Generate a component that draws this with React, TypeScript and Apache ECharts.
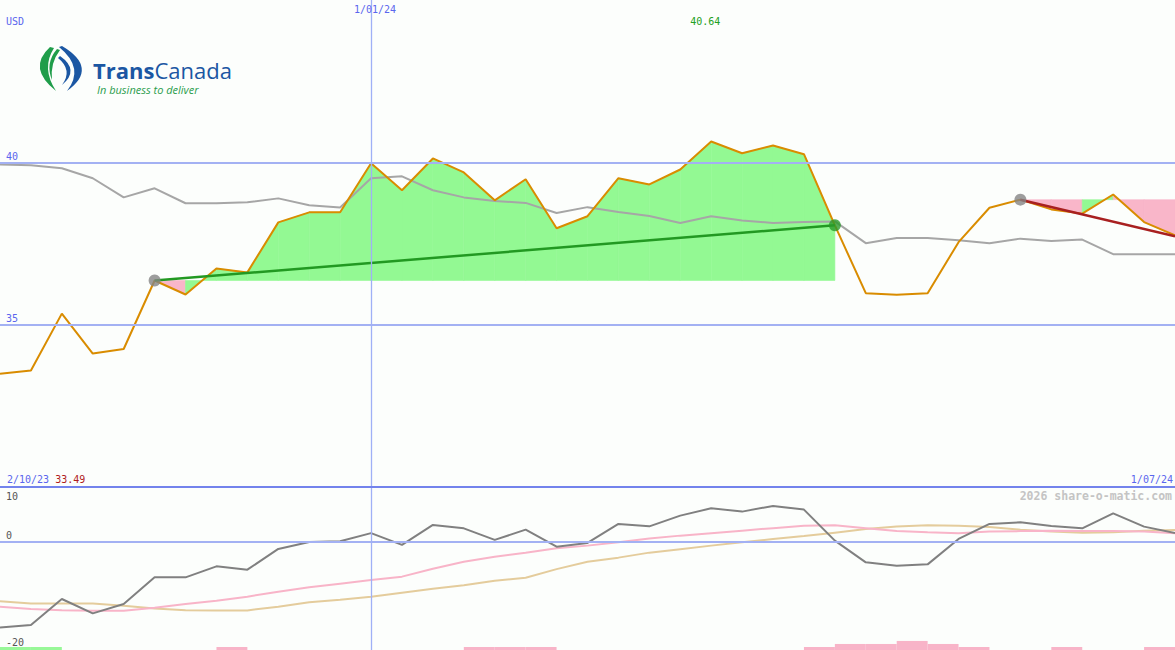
import React, { useEffect, useRef } from "react";
import * as echarts from "echarts";

// ---- data (weekly closes, USD) ----
const price = [33.49, 33.59, 35.34, 34.11, 34.25, 36.36, 35.93, 36.73, 36.61, 38.15, 38.46, 38.46, 39.97, 39.14, 40.12, 39.69, 38.83, 39.48, 37.97, 38.34, 39.51, 39.32, 39.78, 40.64, 40.28, 40.52, 40.25, 38.06, 35.97, 35.92, 35.97, 37.54, 38.6, 38.85, 38.55, 38.42, 39.01, 38.16, 37.75];
const avgLine = [39.93, 39.91, 39.82, 39.51, 38.92, 39.2, 38.74, 38.74, 38.77, 38.89, 38.68, 38.61, 39.51, 39.57, 39.14, 38.92, 38.81, 38.75, 38.44, 38.62, 38.47, 38.35, 38.13, 38.34, 38.21, 38.13, 38.16, 38.18, 37.51, 37.67, 37.67, 37.6, 37.51, 37.65, 37.58, 37.62, 37.17, 37.17, 37.17];
const oscGray = [-15.84, -15.4, -10.61, -13.26, -11.53, -6.63, -6.63, -4.6, -5.21, -1.4, -0.11, 0, 1.51, -0.66, 3.02, 2.39, 0.26, 2.15, -0.98, -0.29, 3.2, 2.76, 4.73, 6.08, 5.47, 6.52, 5.84, 0.13, -3.87, -4.48, -4.24, 0.44, 3.2, 3.5, 2.84, 2.39, 5.16, 2.71, 1.55];
const oscPink = [-12.03, -12.45, -12.67, -12.76, -12.76, -12.21, -11.53, -10.92, -10.18, -9.26, -8.47, -7.79, -7.11, -6.5, -5.03, -3.74, -2.82, -2.08, -1.29, -0.79, -0.15, 0.5, 1.05, 1.51, 1.97, 2.43, 2.89, 2.95, 2.43, 1.88, 1.69, 1.51, 1.79, 1.88, 1.97, 1.92, 1.88, 1.79, 1.47];
const oscTan = [-11.05, -11.42, -11.42, -11.42, -11.84, -12.34, -12.67, -12.71, -12.71, -12.03, -11.23, -10.74, -10.18, -9.45, -8.71, -8.07, -7.24, -6.69, -5.12, -3.74, -3.0, -2.08, -1.44, -0.79, -0.15, 0.41, 0.96, 1.6, 2.25, 2.71, 2.95, 2.89, 2.62, 2.15, 1.79, 1.6, 1.69, 1.97, 2.1];
// signal histogram per weekly interval (+ green, - pink)
const histo = [1, 1, 0, 0, 0, 0, 0, -1, 0, 0, 0, 0, 0, 0, 0, -1, -1, -1, 0, 0, 0, 0, 0, 0, 0, 0, -1, -2, -2, -3, -2, -1, 0, 0, -1, 0, 0, -1];

// trend segments: [startIndex, startValue], [endIndex, endValue]
const trendUp = [[5, 36.36], [27, 38.06]];
const trendDown = [[33, 38.85], [38, 37.72]];
const trendMarkers = [[5, 36.36, "#858585"], [27, 38.06, "#2a9a2a"], [33, 38.85, "#858585"]];

const upperTicks = [35, 40];
const lowerTicks = [10, 0, -20];
const dateLabels: [number, string][] = [[0, "2/10/23"], [12, "1/01/24"], [38, "1/07/24"]];
const currency = "USD";
const credit = "2026 share-o-matic.com";

const MONO = '"DejaVu Sans Mono", "Liberation Mono", monospace';
const BLUE = "#5a66ee";

const greenLogo = "M50,47 Q27,68 56,91 Q41,68 54,48 Z M57,49 Q45,63 52,80 Q50,63 60,50 Z";
const blueLogo = "M62,46 Q99,68 67,91 Q85,68 59,47 Z M60,56 Q80,70 62,85 Q73,70 58,58 Z";
echarts.graphic.registerShape("tcGreen", echarts.graphic.extendPath(greenLogo, {}) as any);
echarts.graphic.registerShape("tcBlue", echarts.graphic.extendPath(blueLogo, {}) as any);

export default function App() {
  const ref = useRef<HTMLDivElement>(null);
  useEffect(() => {
    if (!ref.current) return;
    const chart = echarts.init(ref.current, null, { renderer: "svg" });
    const N = price.length - 1;

    const fillData: number[][] = [];
    [trendUp, trendDown].forEach((seg) => {
      const s = seg[0][0];
      const e = seg[1][0];
      const base = price[s];
      for (let i = s; i < e; i++) fillData.push([i, i + 1, base, price[i], price[i + 1]]);
    });
    const histData = histo.map((v, i) => [i, i + 1, v]).filter((d) => d[2] !== 0);
    const xy = (arr: number[]) => arr.map((v, i) => [i, v]);

    const lineS = (data: number[], color: string, xi: number, z: number) => ({
      type: "line",
      xAxisIndex: xi,
      yAxisIndex: xi,
      data: xy(data),
      symbol: "none",
      silent: true,
      z,
      lineStyle: { color, width: 2 },
    });

    chart.setOption({
      animation: false,
      backgroundColor: "#fcfefc",
      grid: [
        { left: 0, right: 0, top: 0, height: 487, outerBoundsMode: "none", containLabel: false },
        { left: 0, right: 0, top: 487, height: 163, outerBoundsMode: "none", containLabel: false },
      ],
      xAxis: [
        { type: "value", gridIndex: 0, min: 0, max: N, show: false },
        { type: "value", gridIndex: 1, min: 0, max: N, show: false },
      ],
      yAxis: [
        {
          type: "value", gridIndex: 0, min: 30, max: 45, interval: 5,
          axisLine: { show: false }, axisTick: { show: false }, splitLine: { show: false },
          axisLabel: {
            inside: true, margin: 6, color: BLUE, fontFamily: MONO, fontSize: 10,
            verticalAlign: "bottom", lineHeight: 12,
            formatter: (v: number) => (upperTicks.includes(v) ? String(v) : ""),
          },
          z: 10,
        },
        {
          type: "value", gridIndex: 1, min: -20, max: 10, interval: 10,
          axisLine: { show: false }, axisTick: { show: false }, splitLine: { show: false },
          showMinLabel: true, showMaxLabel: true,
          axisLabel: {
            inside: true, margin: 6, color: "#555", fontFamily: MONO, fontSize: 10,
            verticalAlign: "middle",
            formatter: (v: number) => {
              if (!lowerTicks.includes(v)) return "";
              if (v === Math.max(...lowerTicks)) return `{t|${v}}`;
              if (v === Math.min(...lowerTicks)) return `{b|${v}}`;
              return `{m|${v}}`;
            },
            rich: {
              t: { padding: [18, 0, 0, 0], color: "#555", fontFamily: MONO, fontSize: 10, lineHeight: 12 },
              m: { padding: [0, 0, 12, 0], color: "#555", fontFamily: MONO, fontSize: 10, lineHeight: 12 },
              b: { padding: [0, 0, 15, 0], color: "#555", fontFamily: MONO, fontSize: 10, lineHeight: 12 },
            },
          },
          z: 10,
        },
        { type: "value", gridIndex: 1, min: 0, max: 54, show: false },
      ],
      series: [
        {
          type: "line", xAxisIndex: 0, yAxisIndex: 0, data: xy(price), symbol: "none", silent: true, z: 0,
          lineStyle: { opacity: 0 },
          markLine: {
            symbol: ["none", "none"], silent: true, label: { show: false },
            lineStyle: { type: "solid" },
            data: [
              ...upperTicks.map((v) => ({ yAxis: v, lineStyle: { color: "#a3b1f3", width: 2, type: "solid" } })),
              { xAxis: dateLabels[1][0], lineStyle: { color: "#9fb0f6", width: 1.3, type: "solid" } },
            ],
          },
        },
        {
          type: "custom", xAxisIndex: 0, yAxisIndex: 0, data: fillData, z: 1, silent: true,
          encode: { x: [0, 1], y: [2, 3, 4] },
          renderItem: (_p: any, api: any) => {
            const x0 = api.value(0), x1 = api.value(1), b = api.value(2), p0 = api.value(3), p1 = api.value(4);
            const col = p1 >= b ? "#93f993" : "#f9b6c9";
            return {
              type: "polygon",
              shape: { points: [api.coord([x0, b]), api.coord([x0, p0]), api.coord([x1, p1]), api.coord([x1, b])] },
              style: { fill: col, stroke: col, lineWidth: 0.6 },
            };
          },
        },
        lineS(avgLine, "#a6a6a6", 0, 2),
        lineS(price, "#d98c00", 0, 3),
        {
          type: "line", xAxisIndex: 0, yAxisIndex: 0, data: trendUp, symbol: "none", silent: true, z: 4,
          lineStyle: { color: "#229922", width: 2.5 },
        },
        {
          type: "line", xAxisIndex: 0, yAxisIndex: 0, data: trendDown, symbol: "none", silent: true, z: 4,
          lineStyle: { color: "#a82020", width: 2.5 },
        },
        {
          type: "scatter", xAxisIndex: 0, yAxisIndex: 0, z: 5, silent: true, symbolSize: 12,
          data: trendMarkers.map((m) => ({ value: [m[0], m[1]], itemStyle: { color: m[2] } })),
        },
        // lower panel
        {
          type: "line", xAxisIndex: 1, yAxisIndex: 1, data: xy(oscGray), symbol: "none", silent: true, z: 0,
          lineStyle: { opacity: 0 },
          markLine: {
            symbol: ["none", "none"], silent: true, label: { show: false },
            data: [
              { yAxis: 0, lineStyle: { color: "#a3b1f3", width: 2, type: "solid" } },
              { xAxis: dateLabels[1][0], lineStyle: { color: "#9fb0f6", width: 1.3, type: "solid" } },
            ],
          },
        },
        {
          type: "custom", xAxisIndex: 1, yAxisIndex: 2, data: histData, z: 1, silent: true,
          encode: { x: [0, 1], y: 2 },
          renderItem: (_p: any, api: any) => {
            const x0 = api.value(0), x1 = api.value(1), v = api.value(2);
            const a = api.coord([x0, Math.abs(v)]);
            const b = api.coord([x1, 0]);
            return {
              type: "rect",
              shape: { x: a[0], y: a[1], width: b[0] - a[0], height: b[1] - a[1] },
              style: { fill: v > 0 ? "#98f898" : "#f8b4c8" },
            };
          },
        },
        lineS(oscTan, "#e4cc9c", 1, 2),
        lineS(oscPink, "#f8b4c8", 1, 3),
        lineS(oscGray, "#808080", 1, 4),
      ],
    });

    const px = (i: number) => chart.convertToPixel({ xAxisIndex: 0 }, i) as number;
    const py = (v: number) => chart.convertToPixel({ yAxisIndex: 0 }, v) as number;
    const pyLow = (v: number) => chart.convertToPixel({ yAxisIndex: 1 }, v) as number;
    const maxV = Math.max(...price);
    const minV = Math.min(...price);
    const maxI = price.indexOf(maxV);
    const sepY = py(30);
    const monoText = (text: string, x: number, y: number, fill: string, align = "left", extra: any = {}) => ({
      type: "text", x, y, z: 50, silent: true,
      style: { text, fill, fontFamily: MONO, fontSize: 10, align, verticalAlign: "middle", ...extra },
    });

    chart.setOption({
      graphic: [
        { type: "rect", silent: true, z: 40, shape: { x: 0, y: sepY - 1, width: px(N), height: 2 }, style: { fill: "#7383ec" } },
        { type: "tcGreen", x: 0, y: 0, z: 50, silent: true, style: { fill: "#1f9d4a" } },
        { type: "tcBlue", x: 0, y: 0, z: 50, silent: true, style: { fill: "#1b57a3" } },
        {
          type: "text", x: 93, y: 69.5, z: 50, silent: true,
          style: {
            text: "{b|Trans}{r|Canada}", verticalAlign: "middle",
            rich: {
              b: { fontFamily: '"Open Sans", sans-serif', fontWeight: "bold", fontSize: 22, lineHeight: 18, fill: "#1b57a3" },
              r: { fontFamily: '"Open Sans", sans-serif', fontWeight: "normal", fontSize: 22, lineHeight: 18, fill: "#1b57a3" },
            },
          },
        },
        {
          type: "text", x: 97, y: 89.5, z: 50, silent: true,
          style: { text: "In business to deliver", fill: "#2a9d4c", fontFamily: '"Open Sans", sans-serif', fontStyle: "italic", fontSize: 11, lineHeight: 11, verticalAlign: "middle" },
        },
        monoText(currency, 6, 21, BLUE),
        monoText(dateLabels[1][1], px(dateLabels[1][0]) + 4, 9, BLUE, "center"),
        monoText(maxV.toFixed(2), px(maxI) - 6, 21, "#22a022", "center"),
        {
          type: "text", x: px(dateLabels[0][0]) + 7, y: sepY - 8, z: 50, silent: true,
          style: {
            text: `{d|${dateLabels[0][1]}} {v|${minV.toFixed(2)}}`, verticalAlign: "middle",
            rich: {
              d: { fill: BLUE, fontFamily: MONO, fontSize: 10 },
              v: { fill: "#b01c1c", fontFamily: MONO, fontSize: 10 },
            },
            fontFamily: MONO, fontSize: 10,
          },
        },
        monoText(dateLabels[2][1], px(dateLabels[2][0]) - 2, sepY - 8, BLUE, "right"),
        monoText(credit, px(N) - 3, pyLow(10) + 9, "#c4c4c4", "right", { fontWeight: "bold", fontSize: 11.5 }),
      ],
    });

    return () => chart.dispose();
  }, []);

  return (
    <div
      ref={ref}
      style={{ position: "absolute", left: 0, top: 0, width: 1175, height: 650, overflow: "hidden" }}
    />
  );
}
